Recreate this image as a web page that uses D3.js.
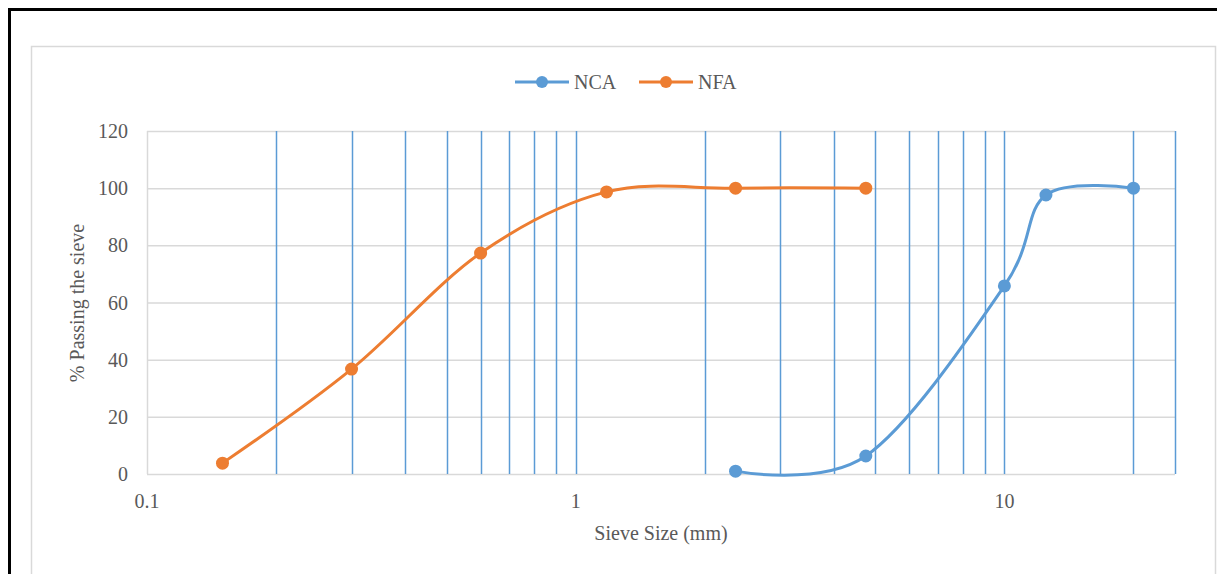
<!DOCTYPE html>
<html>
<head>
<meta charset="utf-8">
<script src="https://cdn.jsdelivr.net/npm/d3@7"></script>
<style>
  body { margin: 0; background: #fff; }
  svg { display: block; font-family: "Liberation Serif", "Times New Roman", serif; }
</style>
</head>
<body>
<div id="chart"></div>
<script>
// sieve sizes (mm) and % passing
const ncaSize = [2.36, 4.75, 10, 12.5, 20];
const ncaPass = [1, 6.3, 65.8, 97.6, 100];
const nfaSize = [0.15, 0.3, 0.6, 1.18, 2.36, 4.75];
const nfaPass = [3.8, 36.7, 77.3, 98.7, 100, 100];
const yTicks = [0, 20, 40, 60, 80, 100, 120];
const xLabels = [0.1, 1, 10];
const xGrid = [0.2, 0.3, 0.4, 0.5, 0.6, 0.7, 0.8, 0.9, 1, 2, 3, 4, 5, 6, 7, 8, 9, 10, 20, 25];

const W = 1217, H = 574;
const margin = {top: 131, right: 42, bottom: 100, left: 147};
const width = W - margin.left - margin.right,
      height = H - margin.top - margin.bottom;

const blue = "#5b9bd5", orange = "#ed7d31", grey = "#d9d9d9", txt = "#595959";

const svg = d3.select("#chart").append("svg")
  .attr("width", W).attr("height", H);

// outer frame
svg.append("path").attr("d", "M9.5,574 V9.5 H1217")
  .attr("fill", "none").attr("stroke", "#000").attr("stroke-width", 3);
svg.append("rect").attr("x", 31.5).attr("y", 46.5).attr("width", 1184).attr("height", 540)
  .attr("fill", "#fff").attr("stroke", grey).attr("stroke-width", 1.5);

const g = svg.append("g").attr("transform", `translate(${margin.left},${margin.top})`);

const x = d3.scaleLog().domain([0.1, 25]).range([0, width]);
const y = d3.scaleLinear().domain([0, 120]).range([height, 0]);

// horizontal grid
g.selectAll(".hg").data(yTicks).join("line")
  .attr("x1", 0).attr("x2", width)
  .attr("y1", d => y(d) + 0.5).attr("y2", d => y(d) + 0.5)
  .attr("stroke", grey).attr("stroke-width", 1.5);

// vertical grid
g.selectAll(".vg").data(xGrid).join("line")
  .attr("x1", d => Math.round(x(d)) + 0.5).attr("x2", d => Math.round(x(d)) + 0.5)
  .attr("y1", 0).attr("y2", height)
  .attr("stroke", blue).attr("stroke-width", 1.5);

// left axis line
g.append("line").attr("x1", 0.5).attr("x2", 0.5).attr("y1", 0).attr("y2", height)
  .attr("stroke", grey).attr("stroke-width", 1.5);

// y tick labels
g.selectAll(".yl").data(yTicks).join("text")
  .attr("x", -19).attr("y", d => y(d)).attr("dy", "0.35em")
  .attr("text-anchor", "end").attr("fill", txt).style("font-size", "20px")
  .text(d => d);

// x tick labels
g.selectAll(".xl").data(xLabels).join("text")
  .attr("x", d => x(d)).attr("y", height + 34)
  .attr("text-anchor", "middle").attr("fill", txt).style("font-size", "20px")
  .text(d => d);

// axis titles
svg.append("text").attr("x", 661).attr("y", 540)
  .attr("text-anchor", "middle").attr("fill", txt).style("font-size", "20px")
  .text("Sieve Size (mm)");
svg.append("text").attr("transform", "translate(84,303) rotate(-90)")
  .attr("text-anchor", "middle").attr("fill", txt).style("font-size", "20px")
  .text("% Passing the sieve");

const line = d3.line().x(d => x(d[0])).y(d => y(d[1])).curve(d3.curveCardinal.tension(0));

const series = [
  {name: "NCA", color: blue, pts: d3.zip(ncaSize, ncaPass)},
  {name: "NFA", color: orange, pts: d3.zip(nfaSize, nfaPass)}
];

series.forEach(s => {
  g.append("path").datum(s.pts)
    .attr("fill", "none").attr("stroke", s.color).attr("stroke-width", 3)
    .attr("d", line);
  g.selectAll(null).data(s.pts).join("circle")
    .attr("cx", d => x(d[0])).attr("cy", d => y(d[1])).attr("r", 6.5)
    .attr("fill", s.color);
});

// legend
const leg = svg.append("g").attr("transform", "translate(515,82)");
series.forEach((s, i) => {
  const lg = leg.append("g").attr("transform", `translate(${i * 124},0)`);
  lg.append("line").attr("x1", 0).attr("x2", 54).attr("stroke", s.color).attr("stroke-width", 3);
  lg.append("circle").attr("cx", 27).attr("r", 6).attr("fill", s.color);
  lg.append("text").attr("x", 59).attr("dy", "0.35em").attr("fill", txt)
    .style("font-size", "20px").text(s.name);
});
</script>
</body>
</html>
